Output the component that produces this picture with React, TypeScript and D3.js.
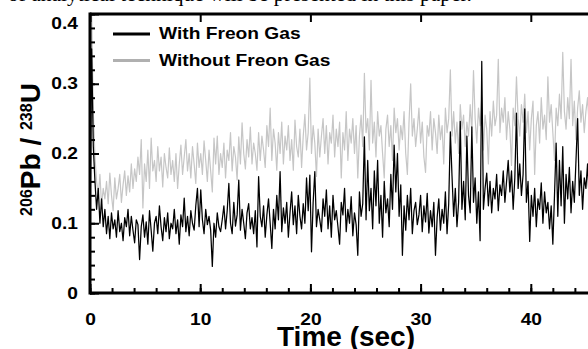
import { useEffect, useRef } from "react";
import * as d3 from "d3";

// sampling interval of the recorded signal, sec
const step = 0.15;

// 206Pb/238U ratio x1000, every 0.15 s
const withFreon = [
  90, 350, 210, 160, 120, 150, 100, 135, 95, 120,
  85, 110, 78, 115, 92, 105, 80, 118, 88, 100,
  75, 108, 95, 120, 82, 110, 90, 72, 105, 98,
  48, 95, 112, 80, 102, 70, 118, 90, 60, 100,
  110, 85, 125, 95, 75, 108, 88, 115, 78, 100,
  92, 120, 85, 105, 70, 112, 95, 136, 88, 110,
  82, 118, 100, 90, 125, 150, 95, 148, 105, 85,
  120, 98, 110, 90, 38, 100, 80, 115, 95, 88,
  105, 125, 92, 118, 157, 100, 85, 130, 96, 112,
  162, 90, 120, 100, 78, 115, 128, 92, 108, 85,
  118, 66, 167, 110, 95, 125, 80, 112, 135, 100,
  64, 120, 92, 140, 105, 174, 88, 122, 100, 130,
  80, 115, 145, 98, 125, 85, 140, 110, 92, 128,
  100, 165, 118, 169, 59, 130, 174, 95, 120, 105,
  88, 135, 110, 148, 92, 125, 80, 140, 105, 118,
  95, 70, 130, 112, 150, 88, 120, 100, 138, 82,
  115, 98, 54, 145, 110, 128, 224, 105, 190, 118,
  150, 92, 175, 125, 190, 100, 140, 80, 160, 115,
  135, 95, 170, 120, 212, 145, 200, 110, 155, 54,
  125, 90, 140, 105, 150, 85, 118, 130, 98, 112,
  140, 88, 125, 102, 143, 86, 118, 95, 130, 54,
  108, 135, 90, 120, 100, 145, 85, 128, 231, 168,
  110, 150, 95, 130, 246, 120, 160, 105, 225, 140,
  115, 238, 130, 165, 100, 145, 75, 332, 120, 150,
  172, 125, 160, 115, 150, 135, 170, 118, 155, 140,
  175, 130, 160, 190, 145, 175, 120, 165, 258, 150,
  185, 140, 170, 264, 130, 160, 74, 140, 110, 150,
  95, 135, 120, 158, 100, 145, 115, 130, 92, 125,
  70, 140, 215, 110, 190, 125, 210, 100, 170, 135,
  180, 115, 160, 130, 190, 250, 140, 175, 120, 165,
  150, 185, 130,
];

const withoutFreon = [
  100, 400, 260, 195, 160, 140, 170, 125, 150, 135,
  160, 128, 172, 140, 118, 165, 135, 150, 170, 130,
  155, 175, 140, 168, 145, 185, 150, 178, 160, 195,
  170, 220, 122, 185, 160, 205, 150, 222, 175, 190,
  160, 210, 175, 195, 152, 200, 180, 165, 208, 170,
  190, 160, 200, 150, 185, 212, 170, 195, 220, 175,
  200, 165, 210, 185, 157, 215, 180, 200, 170, 218,
  190, 160, 205, 175, 145, 222, 185, 225, 170, 200,
  180, 215, 165, 205, 190, 230, 175, 210, 195, 162,
  224, 185, 244, 200, 178, 220, 195, 238, 185, 215,
  200, 176, 230, 190, 225, 205, 180, 240, 210, 265,
  190, 235, 215, 176, 230, 200, 245, 185, 225, 205,
  240, 190, 220, 176, 248, 210, 195, 235, 180, 225,
  256, 205, 230, 308, 200, 240, 215, 167, 235, 195,
  225, 250, 200, 240, 185, 230, 215, 255, 195, 235,
  210, 245, 165, 230, 205, 260, 190, 235, 215, 250,
  200, 240, 165, 225, 255, 210, 315, 230, 250, 205,
  305, 215, 245, 195, 260, 225, 240, 200, 165, 235,
  255, 210, 240, 190, 265, 230, 250, 205, 240, 220,
  260, 200, 170, 245, 300, 225, 250, 210, 235, 265,
  215, 245, 195, 173, 240, 225, 260, 205, 250, 230,
  200, 255, 220, 240, 185, 265, 230, 250, 320, 225,
  260, 215, 245, 200, 270, 235, 255, 210, 245, 225,
  270, 230, 319, 250, 215, 265, 240, 280, 205, 255,
  235, 185, 260, 225, 275, 240, 255, 335, 230, 265,
  245, 280, 220, 260, 235, 183, 265, 240, 310, 250,
  225, 270, 245, 285, 230, 260, 205, 250, 275, 170,
  240, 260, 215, 280, 235, 255, 220, 310, 245, 270,
  230, 190, 265, 240, 285, 250, 345, 260, 235, 280,
  250, 335, 240, 275, 220, 265, 290, 245, 270, 230,
  260, 280, 240,
];

const seriesNames = ["With Freon Gas", "Without Freon Gas"];
const seriesColors = ["#000000", "#c6c6c6"];
const legendColors = ["#000000", "#b0b0b0"];
const xTicks = [0, 10, 20, 30, 40, 50];
const xMinor = d3.range(0, 51, 2);
const yTicks = [0, 0.1, 0.2, 0.3, 0.4];
const yMinor = d3.range(0, 0.401, 0.02);

const font = "'Liberation Sans', Arial, sans-serif";
// the scanned figure's lettering is a bit wider than Arial
const wide = 1.2;

export default function App() {
  const xAxisRef = useRef<SVGGElement>(null);
  const xMinorRef = useRef<SVGGElement>(null);
  const xTopRef = useRef<SVGGElement>(null);
  const yAxisRef = useRef<SVGGElement>(null);
  const yMinorRef = useRef<SVGGElement>(null);

  const x = d3.scaleLinear().domain([0, 50]).range([90, 641]);
  const y = d3.scaleLinear().domain([0, 0.4]).range([293, 14]);

  const line = d3
    .line<number>()
    .x((_, i) => x(i * step))
    .y((v) => y(v / 1000));

  useEffect(() => {
    const styleTicks = (g: any) => {
      g.select(".domain").remove();
      g.selectAll("line").attr("stroke", "#000").attr("stroke-width", 2);
      g.selectAll("text")
        .attr("font-family", font)
        .attr("font-weight", "bold")
        .attr("fill", "#000");
    };

    d3.select(xMinorRef.current)
      .call(d3.axisBottom(x).tickValues(xMinor).tickSize(-5).tickFormat(() => ""))
      .call(styleTicks);

    d3.select(xAxisRef.current)
      .call(d3.axisBottom(x).tickValues(xTicks).tickSize(-9).tickPadding(21))
      .call(styleTicks)
      .selectAll("text")
      .style("font-size", "16px")
      .attr("transform", `scale(${wide},1)`);

    d3.select(xTopRef.current)
      .call(d3.axisTop(x).tickValues(xTicks).tickSize(-8).tickFormat(() => ""))
      .call(styleTicks);

    d3.select(yMinorRef.current)
      .call(d3.axisLeft(y).tickValues(yMinor).tickSize(-5).tickFormat(() => ""))
      .call(styleTicks);

    d3.select(yAxisRef.current)
      .call(d3.axisLeft(y).tickValues(yTicks).tickSize(-9).tickPadding(12).tickFormat(d3.format("~g")))
      .call(styleTicks)
      .selectAll("text")
      .style("font-size", "16px")
      .attr("x", -12 / wide)
      .attr("transform", `scale(${wide},1)`)
      .attr("y", (d: any) => (d === 0.4 ? 9 : 0));
  }, []);

  return (
    <svg
      width={588}
      height={349}
      style={{ position: "absolute", left: 0, top: 0, background: "#fff" }}
    >
      <text x={8} y={1} fontFamily="'Liberation Serif', 'Times New Roman', serif" fontSize={21.5}>
        of analytical technique will be presented in this paper.
      </text>

      <defs>
        <clipPath id="plot">
          <rect x={90} y={12} width={560} height={282} />
        </clipPath>
      </defs>

      <g clipPath="url(#plot)" fill="none" strokeLinejoin="round">
        <path d={line(withoutFreon) ?? ""} stroke={seriesColors[1]} strokeWidth={1.2} />
        <path d={line(withFreon) ?? ""} stroke={seriesColors[0]} strokeWidth={1.25} />
      </g>

      <g ref={xMinorRef} transform="translate(0,293)" />
      <g ref={xAxisRef} transform="translate(0,293)" />
      <g ref={xTopRef} transform="translate(0,14)" />
      <g ref={yMinorRef} transform="translate(90,0)" />
      <g ref={yAxisRef} transform="translate(90,0)" />

      {/* frame */}
      <line x1={90} x2={641} y1={293} y2={293} stroke="#000" strokeWidth={3} />
      <line x1={90} x2={641} y1={14} y2={14} stroke="#000" strokeWidth={3} />
      <line x1={90} x2={90} y1={12.5} y2={294.5} stroke="#000" strokeWidth={3} />

      {/* legend */}
      {seriesNames.map((name, i) => (
        <g key={name} transform={`translate(0,${34 + i * 26.5})`}>
          <line x1={113} x2={150} y1={0} y2={0} stroke={legendColors[i]} strokeWidth={3} />
          <text
            transform={`translate(159,5) scale(${wide},1)`}
            fontFamily={font}
            fontWeight="bold"
            fontSize={16}
          >
            {name}
          </text>
        </g>
      ))}

      <text
        x={346}
        y={346}
        textAnchor="middle"
        fontFamily={font}
        fontWeight="bold"
        fontSize={28}
      >
        Time (sec)
      </text>

      <text
        transform="translate(40,149.5) rotate(-90)"
        textAnchor="middle"
        fontFamily={font}
        fontWeight="bold"
        fontSize={28}
      >
        <tspan fontSize={16} dy={-8.5}>206</tspan>
        <tspan dy={8.5}>Pb / </tspan>
        <tspan fontSize={16} dy={-8.5}>238</tspan>
        <tspan dy={8.5}>U</tspan>
      </text>
    </svg>
  );
}
